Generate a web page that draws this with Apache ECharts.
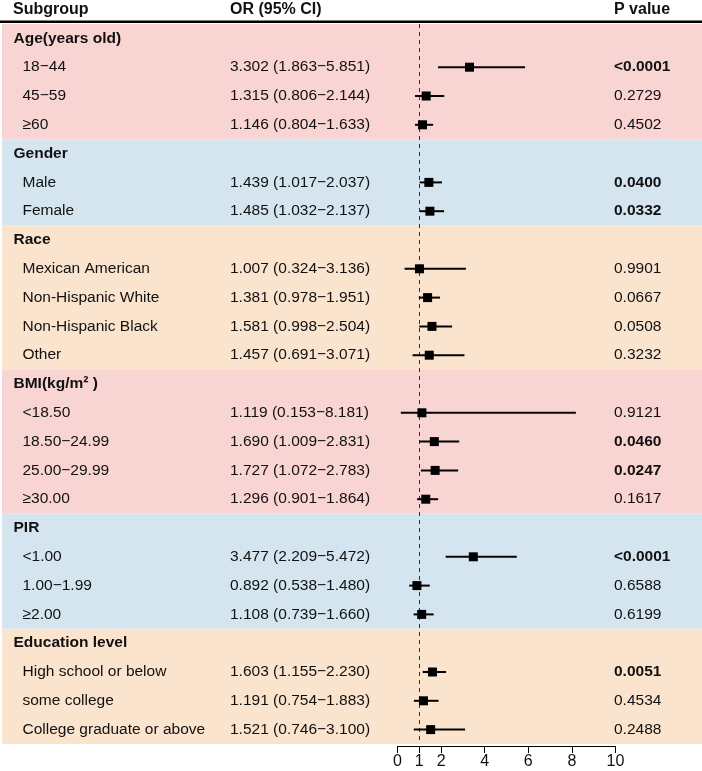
<!DOCTYPE html>
<html>
<head>
<meta charset="utf-8">
<script src="https://cdn.jsdelivr.net/npm/echarts@6/dist/echarts.min.js"></script>
<style>
html,body{margin:0;padding:0;background:#fff;}
#c{width:702px;height:771px;}
</style>
</head>
<body>
<div id="c"></div>
<script>
// ---- data ----
const labels = [
  "Age(years old)", "18\u221244", "45\u221259", "\u226560",
  "Gender", "Male", "Female",
  "Race", "Mexican American", "Non-Hispanic White", "Non-Hispanic Black", "Other",
  "BMI(kg/m\u00b2 )", "<18.50", "18.50\u221224.99", "25.00\u221229.99", "\u226530.00",
  "PIR", "<1.00", "1.00\u22121.99", "\u22652.00",
  "Education level", "High school or below", "some college", "College graduate or above"
];
const isGroupHeader = [1,0,0,0, 1,0,0, 1,0,0,0,0, 1,0,0,0,0, 1,0,0,0, 1,0,0,0];
const orValues = [null,3.302,1.315,1.146, null,1.439,1.485, null,1.007,1.381,1.581,1.457, null,1.119,1.690,1.727,1.296, null,3.477,0.892,1.108, null,1.603,1.191,1.521];
const ciLow    = [null,1.863,0.806,0.804, null,1.017,1.032, null,0.324,0.978,0.998,0.691, null,0.153,1.009,1.072,0.901, null,2.209,0.538,0.739, null,1.155,0.754,0.746];
const ciHigh   = [null,5.851,2.144,1.633, null,2.037,2.137, null,3.136,1.951,2.504,3.071, null,8.181,2.831,2.783,1.864, null,5.472,1.480,1.660, null,2.230,1.883,3.100];
const pValues  = ["","<0.0001","0.2729","0.4502", "","0.0400","0.0332", "","0.9901","0.0667","0.0508","0.3232", "","0.9121","0.0460","0.0247","0.1617", "","<0.0001","0.6588","0.6199", "","0.0051","0.4534","0.2488"];
const pBold    = [0,1,0,0, 0,1,1, 0,0,0,0,0, 0,0,1,1,0, 0,1,0,0, 0,1,0,0];
const groupSizes = [4,3,5,5,4,4];
const groupColors = ["#F8D5D3","#D5E5F0","#FBE4CD","#F8D5D3","#D5E5F0","#FBE4CD"];
const xTicks = [0,1,2,4,6,8,10];
const headers = ["Subgroup","OR (95% CI)","P value"];

// ---- build ----
const FONT = '"Liberation Sans", Arial, sans-serif';
const FS = '15.5px ';
const rowIdx = labels.map((_, i) => i);
const fmt = v => v.toFixed(3);
const orText = orValues.map((v, i) => v == null ? "" : fmt(v) + " (" + fmt(ciLow[i]) + "\u2212" + fmt(ciHigh[i]) + ")");

const groupData = [];
let s = 0;
groupSizes.forEach((n, g) => { groupData.push([s, s + n - 1, g]); s += n; });

const textData = rowIdx.map(i => [0, i]);
const barData = [];
rowIdx.forEach(i => { if (orValues[i] != null) barData.push([orValues[i], i, ciLow[i], ciHigh[i]]); });

const chart = echarts.init(document.getElementById('c'), null, {renderer: 'canvas'});
const option = {
  animation: false,
  backgroundColor: '#ffffff',
  textStyle: {fontFamily: FONT},
  grid: {left: 397.5, right: 86.5, top: 24, bottom: 27, containLabel: false},
  xAxis: {
    type: 'value', min: 0, max: 10, interval: 1,
    offset: 2,
    splitLine: {show: false},
    axisLine: {show: true, lineStyle: {color: '#000', width: 1}},
    axisTick: {show: true, customValues: xTicks, length: 7, lineStyle: {color: '#000'}},
    axisLabel: {show: true, customValues: xTicks, color: '#111', fontSize: 16, fontFamily: FONT, margin: 8}
  },
  yAxis: {
    type: 'category', inverse: true, data: rowIdx,
    show: false, boundaryGap: true
  },
  graphic: [
    {type: 'text', left: 13, top: 2, style: {text: headers[0], font: 'bold 16px ' + FONT, fill: '#111'}},
    {type: 'text', left: 230, top: 2, style: {text: headers[1], font: 'bold 16px ' + FONT, fill: '#111'}},
    {type: 'text', left: 614, top: 2, style: {text: headers[2], font: 'bold 16px ' + FONT, fill: '#111'}},
    {type: 'rect', shape: {x: 0, y: 20.5, width: 702, height: 2.5}, style: {fill: '#000'}}
  ],
  series: [
    {
      type: 'custom', name: 'bg', z: 0, silent: true,
      data: groupData,
      renderItem: function (params, api) {
        const h = api.size([0, 1])[1];
        const y0 = api.coord([0, api.value(0)])[1] - h / 2;
        const y1 = api.coord([0, api.value(1)])[1] + h / 2;
        return {type: 'rect', shape: {x: 2, y: y0, width: 700, height: y1 - y0},
          style: {fill: groupColors[api.value(2)]}};
      }
    },
    {
      type: 'custom', name: 'text', z: 3, silent: true,
      data: textData,
      renderItem: function (params, api) {
        const i = api.value(1);
        const y = api.coord([0, i])[1];
        const head = isGroupHeader[i];
        const children = [
          {type: 'text', style: {text: labels[i], x: head ? 13.5 : 22.5, y: y, textVerticalAlign: 'middle', textAlign: 'left',
            font: (head ? 'bold ' : '') + FS + FONT, fill: '#111'}},
          {type: 'text', style: {text: orText[i], x: 230, y: y, textVerticalAlign: 'middle', textAlign: 'left',
            font: FS + FONT, fill: '#111'}},
          {type: 'text', style: {text: pValues[i], x: 614, y: y, textVerticalAlign: 'middle', textAlign: 'left',
            font: (pBold[i] ? 'bold ' : '') + FS + FONT, fill: '#111'}}
        ];
        return {type: 'group', children: children};
      }
    },
    {
      type: 'custom', name: 'OR', z: 5, silent: true,
      data: barData,
      renderItem: function (params, api) {
        const pLo = api.coord([api.value(2), api.value(1)]);
        const pHi = api.coord([api.value(3), api.value(1)]);
        const pC = api.coord([api.value(0), api.value(1)]);
        const sz = 9;
        return {type: 'group', children: [
          {type: 'line', shape: {x1: pLo[0], y1: pLo[1], x2: pHi[0], y2: pHi[1]}, style: {stroke: '#000', lineWidth: 2}},
          {type: 'rect', shape: {x: pC[0] - sz / 2, y: pC[1] - sz / 2, width: sz, height: sz}, style: {fill: '#000'}}
        ]};
      },
      markLine: {
        silent: true, symbol: ['none', 'none'], label: {show: false},
        lineStyle: {color: '#333', width: 1, type: [4, 4]},
        data: [{xAxis: 1}]
      }
    }
  ]
};
chart.setOption(option);
</script>
</body>
</html>
